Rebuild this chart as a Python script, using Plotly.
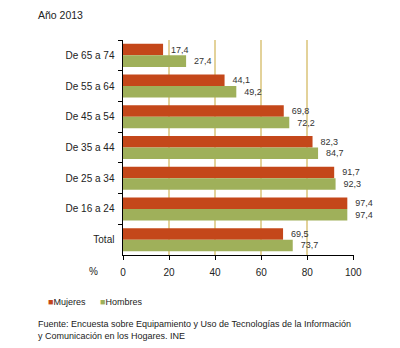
import plotly.graph_objects as go

categories = ["De 65 a 74", "De 55 a 64", "De 45 a 54", "De 35 a 44", "De 25 a 34", "De 16 a 24", "Total"]
mujeres = [17.4, 44.1, 69.8, 82.3, 91.7, 97.4, 69.5]
hombres = [27.4, 49.2, 72.2, 84.7, 92.3, 97.4, 73.7]
x_ticks = [0, 20, 40, 60, 80, 100]

RED = "#C4471A"
GREEN = "#9FB05A"
GRID = "#E3D29A"
FONT = "Liberation Sans, Arial, sans-serif"
NB = "\u00a0\u00a0"

fig = go.Figure()
fig.add_trace(go.Bar(y=categories, x=mujeres, name="Mujeres", orientation="h",
                     marker=dict(color=RED, line=dict(width=0)),
                     texttemplate=NB + "%{x:.1f}", textposition="outside",
                     textfont=dict(size=9, color="#333333", family=FONT), cliponaxis=False))
fig.add_trace(go.Bar(y=categories, x=hombres, name="Hombres", orientation="h",
                     marker=dict(color=GREEN, line=dict(width=0)),
                     texttemplate=NB + "%{x:.1f}", textposition="outside",
                     textfont=dict(size=9, color="#333333", family=FONT), cliponaxis=False))

plot_l, plot_r, plot_t, plot_b = 123, 354, 40, 255
W, H = plot_r - plot_l, plot_b - plot_t

fig.update_layout(
    width=400, height=348,
    margin=dict(l=plot_l, r=400 - plot_r, t=plot_t, b=348 - plot_b),
    paper_bgcolor="white", plot_bgcolor="white",
    separators=",.",
    barmode="group", bargap=0.25, bargroupgap=0,
    font=dict(family=FONT, size=10, color="#222222"),
    showlegend=False,
    xaxis=dict(range=[0, 100.3], tickvals=x_ticks, showgrid=True, gridcolor=GRID, gridwidth=2,
               showline=True, linecolor="black", linewidth=1, ticks="outside", ticklen=4,
               tickcolor="black", zeroline=False, tickfont=dict(size=10, color="#222222"),
               ticklabelstandoff=4, fixedrange=True),
    yaxis=dict(autorange="reversed", showline=True, linecolor="black", linewidth=1,
               ticks="outside", ticklen=4, tickcolor="black", tickson="boundaries",
               showgrid=False, tickfont=dict(size=10, color="#222222"), ticksuffix="  ",
               fixedrange=True),
)

anns = []
specs = [
    ("Año 2013", 36, 15, 10.5, "left", "middle"),
    ("%", 93, 271, 10, "center", "middle"),
    (f'<span style="color:{RED}">■</span>Mujeres', 46, 302, 9, "left", "middle"),
    (f'<span style="color:{GREEN}">■</span>Hombres', 98, 302, 9, "left", "middle"),
    ("Fuente: Encuesta sobre Equipamiento y Uso de Tecnologías de la Información<br>y Comunicación en los Hogares. INE", 36, 317, 9, "left", "top"),
]
for text, px, py, size, xa, ya in specs:
    anns.append(dict(text=text, x=(px - plot_l) / W, y=(plot_b - py) / H, xref="paper", yref="paper",
                     showarrow=False, xanchor=xa, yanchor=ya, align="left",
                     font=dict(size=size, color="#222222")))
fig.update_layout(annotations=anns)

fig.write_html("out.html")
